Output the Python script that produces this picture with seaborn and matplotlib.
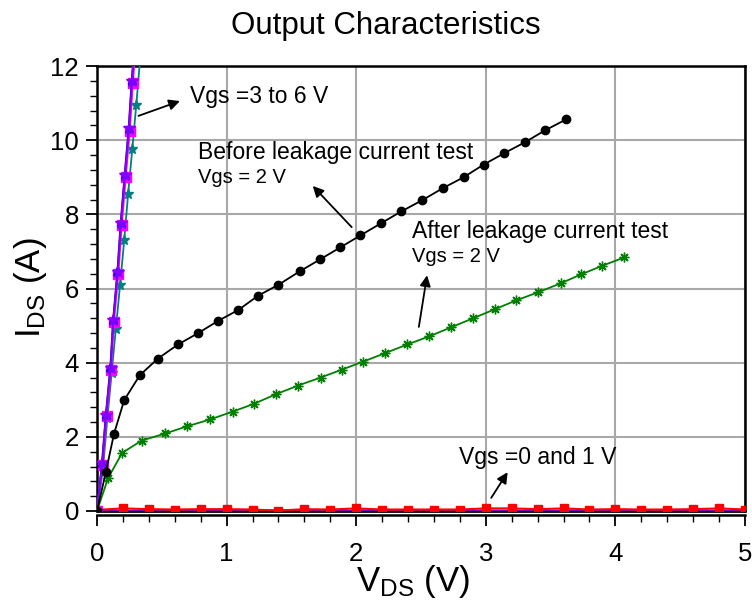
import matplotlib
matplotlib.use("Agg")
import matplotlib.pyplot as plt
import seaborn as sns
import numpy as np
import pandas as pd
from matplotlib.ticker import MultipleLocator

# ---------------- data ----------------
# Before leakage current test, Vgs = 2 V
vds_before = [0, 0.069, 0.131, 0.21, 0.33, 0.47, 0.625, 0.777, 0.936, 1.09, 1.245, 1.40,
              1.563, 1.724, 1.878, 2.032, 2.192, 2.349, 2.509, 2.666, 2.829, 2.983,
              3.143, 3.30, 3.46, 3.62]
ids_before = [0, 1.06, 2.08, 2.99, 3.66, 4.11, 4.49, 4.79, 5.13, 5.42, 5.81, 6.10,
              6.46, 6.79, 7.11, 7.43, 7.76, 8.08, 8.38, 8.70, 9.00, 9.34,
              9.65, 9.94, 10.27, 10.56]
# After leakage current test, Vgs = 2 V
vds_after = [0, 0.087, 0.195, 0.345, 0.527, 0.692, 0.874, 1.047, 1.211, 1.381, 1.55,
             1.726, 1.888, 2.055, 2.225, 2.394, 2.564, 2.73, 2.904, 3.069, 3.235,
             3.405, 3.578, 3.735, 3.897, 4.069]
ids_after = [0, 0.90, 1.57, 1.90, 2.09, 2.28, 2.47, 2.68, 2.89, 3.15, 3.38,
             3.60, 3.81, 4.03, 4.26, 4.49, 4.71, 4.95, 5.20, 5.44, 5.68,
             5.90, 6.14, 6.38, 6.61, 6.84]
# Vgs = 3 to 6 V (steep curves)
vds_vgs6 = [0, 0.041, 0.070, 0.105, 0.126, 0.160, 0.185, 0.216, 0.247, 0.270, 0.300]
ids_vgs6 = [0, 1.30, 2.60, 3.85, 5.15, 6.45, 7.76, 9.06, 10.32, 11.60, 12.90]
vds_vgs5 = [0, 0.038, 0.068, 0.102, 0.124, 0.157, 0.182, 0.213, 0.244, 0.267, 0.297]
ids_vgs5 = [0, 1.30, 2.60, 3.85, 5.15, 6.45, 7.76, 9.06, 10.32, 11.60, 12.90]
vds_vgs4 = [0, 0.044, 0.074, 0.109, 0.131, 0.165, 0.191, 0.222, 0.253, 0.277, 0.307]
ids_vgs4 = [0, 1.25, 2.55, 3.80, 5.10, 6.40, 7.70, 9.00, 10.25, 11.55, 12.85]
vds_vgs35 = [0, 0.039, 0.069, 0.103, 0.125, 0.158, 0.183, 0.214, 0.245, 0.268, 0.298]
ids_vgs35 = [0, 1.32, 2.62, 3.87, 5.17, 6.47, 7.78, 9.08, 10.34, 11.62, 12.92]
vds_vgs3 = [0, 0.045, 0.080, 0.113, 0.145, 0.178, 0.210, 0.240, 0.272, 0.303, 0.333]
ids_vgs3 = [0, 1.10, 2.50, 3.72, 4.90, 6.10, 7.30, 8.55, 9.75, 10.95, 12.20]
# Vgs = 0 and 1 V
vds_vgs0 = [0, 0.2, 0.4, 0.6, 0.8, 1.0, 1.2, 1.4, 1.6, 1.8, 2.0, 2.2, 2.4, 2.6,
            2.8, 3.0, 3.2, 3.4, 3.6, 3.8, 4.0, 4.2, 4.4, 4.6, 4.8, 5.0]
ids_vgs0 = [0.03, 0.07, 0.05, 0.04, 0.05, 0.05, 0.04, 0.01, 0.05, 0.04, 0.07, 0.04, 0.04, 0.04,
            0.04, 0.07, 0.07, 0.05, 0.07, 0.04, 0.05, 0.04, 0.04, 0.05, 0.07, 0.04]
ids_vgs1 = [0.0, 0.01, 0.01, 0.01, 0.01, 0.01, 0.01, 0.02, 0.01, 0.01, 0.01, 0.01, 0.01, 0.01,
            0.01, 0.01, 0.01, 0.01, 0.01, 0.01, 0.01, 0.01, 0.02, 0.01, 0.01, 0.01]

x_ticks = [0, 1, 2, 3, 4, 5]
y_ticks = [0, 2, 4, 6, 8, 10, 12]

# ---------------- style ----------------
sns.set_theme(style="white")
plt.rcParams["font.family"] = ["Liberation Sans", "DejaVu Sans"]
plt.rcParams["mathtext.fontset"] = "custom"
plt.rcParams["mathtext.rm"] = "Liberation Sans"
plt.rcParams["mathtext.it"] = "Liberation Sans:italic"
for k in ["text.color", "axes.labelcolor", "xtick.color", "ytick.color"]:
    plt.rcParams[k] = "black"

fig = plt.figure(figsize=(7.52, 6.05), dpi=100)
ax = fig.add_axes([97/752, 1-511/605, (745-97)/752, (511-66)/605])

def draw(x, y, color, marker, ms, lw=1.3, zorder=3):
    df = pd.DataFrame({"x": x, "y": y})
    sns.lineplot(data=df, x="x", y="y", ax=ax, color=color, marker=marker,
                 markersize=ms, linewidth=lw, estimator=None, sort=False,
                 markeredgecolor=color, markeredgewidth=1.0,
                 zorder=zorder, legend=False)

draw(vds_vgs0, ids_vgs1, "#8000c0", None, 0, lw=1.5)
draw(vds_vgs0, ids_vgs0, "#ff0000", "s", 6, lw=1.5)
draw(vds_vgs3, ids_vgs3, "#008080", "*", 8)
draw(vds_vgs4, ids_vgs4, "#ff00ff", "s", 7)
draw(vds_vgs5, ids_vgs5, "#ff8000", "o", 4)
draw(vds_vgs35, ids_vgs35, "#0000ff", "^", 6)
draw(vds_vgs6, ids_vgs6, "#8000ff", "*", 9)
draw(vds_after, ids_after, "#008000", (8, 2, 0), 7, lw=1.3)
draw(vds_before, ids_before, "#000000", "o", 6, lw=1.3)

ax.set_xlim(0, 5)
ax.set_ylim(0, 12)
ax.set_xticks(x_ticks)
ax.set_yticks(y_ticks)
ax.xaxis.set_minor_locator(MultipleLocator(0.2))
ax.yaxis.set_minor_locator(MultipleLocator(0.4))
ax.grid(True, which="major", color="#a8a8a8", linewidth=1.5)
ax.set_axisbelow(True)
ax.tick_params(axis="both", which="major", direction="out", length=8, width=1.3,
               labelsize=18.5, left=True, bottom=True)
ax.tick_params(axis="x", which="major", pad=11)
ax.tick_params(axis="y", which="major", pad=5)
ax.tick_params(which="minor", direction="out", length=5, width=1.0,
               left=True, bottom=True)
for s in ax.spines.values():
    s.set_color("black")
    s.set_linewidth(1.8)
ax.spines["bottom"].set_position(("outward", 3))
ax.axhline(0, color="black", linewidth=2.0, clip_on=False, zorder=2.5)

ax.set_xlabel("")
ax.set_ylabel("")
fig.text(413/752, 1-582/605, r"V$_{\mathrm{DS}}$ (V)", ha="center", va="center", fontsize=25)
fig.text(31/752, 1-288/605, r"I$_{\mathrm{DS}}$ (A)", ha="center", va="center",
         fontsize=25, rotation=90)
fig.text(386/752, 1-26/605, "Output Characteristics", ha="center", va="center", fontsize=22.5)

arrow = dict(arrowstyle="-|>", color="black", lw=1.3, mutation_scale=16)
ax.annotate("", xy=(0.66, 11.08), xytext=(0.30, 10.63), arrowprops=dict(arrow))
ax.text(0.72, 11.17, "Vgs =3 to 6 V", fontsize=16.5, va="center", ha="left")
ax.annotate("", xy=(1.65, 8.82), xytext=(1.98, 7.6), arrowprops=dict(arrow))
ax.text(0.78, 9.66, "Before leakage current test", fontsize=16.5, va="center", ha="left")
ax.text(0.78, 8.98, "Vgs = 2 V", fontsize=14.5, va="center", ha="left")
ax.annotate("", xy=(2.55, 6.43), xytext=(2.48, 4.89), arrowprops=dict(arrow))
ax.text(2.43, 7.55, "After leakage current test", fontsize=16.5, va="center", ha="left")
ax.text(2.43, 6.85, "Vgs = 2 V", fontsize=14.5, va="center", ha="left")
ax.annotate("", xy=(3.18, 1.11), xytext=(3.03, 0.29), arrowprops=dict(arrow))
ax.text(2.79, 1.45, "Vgs =0 and 1 V", fontsize=16.5, va="center", ha="left")

fig.savefig("out.png", dpi=100)
